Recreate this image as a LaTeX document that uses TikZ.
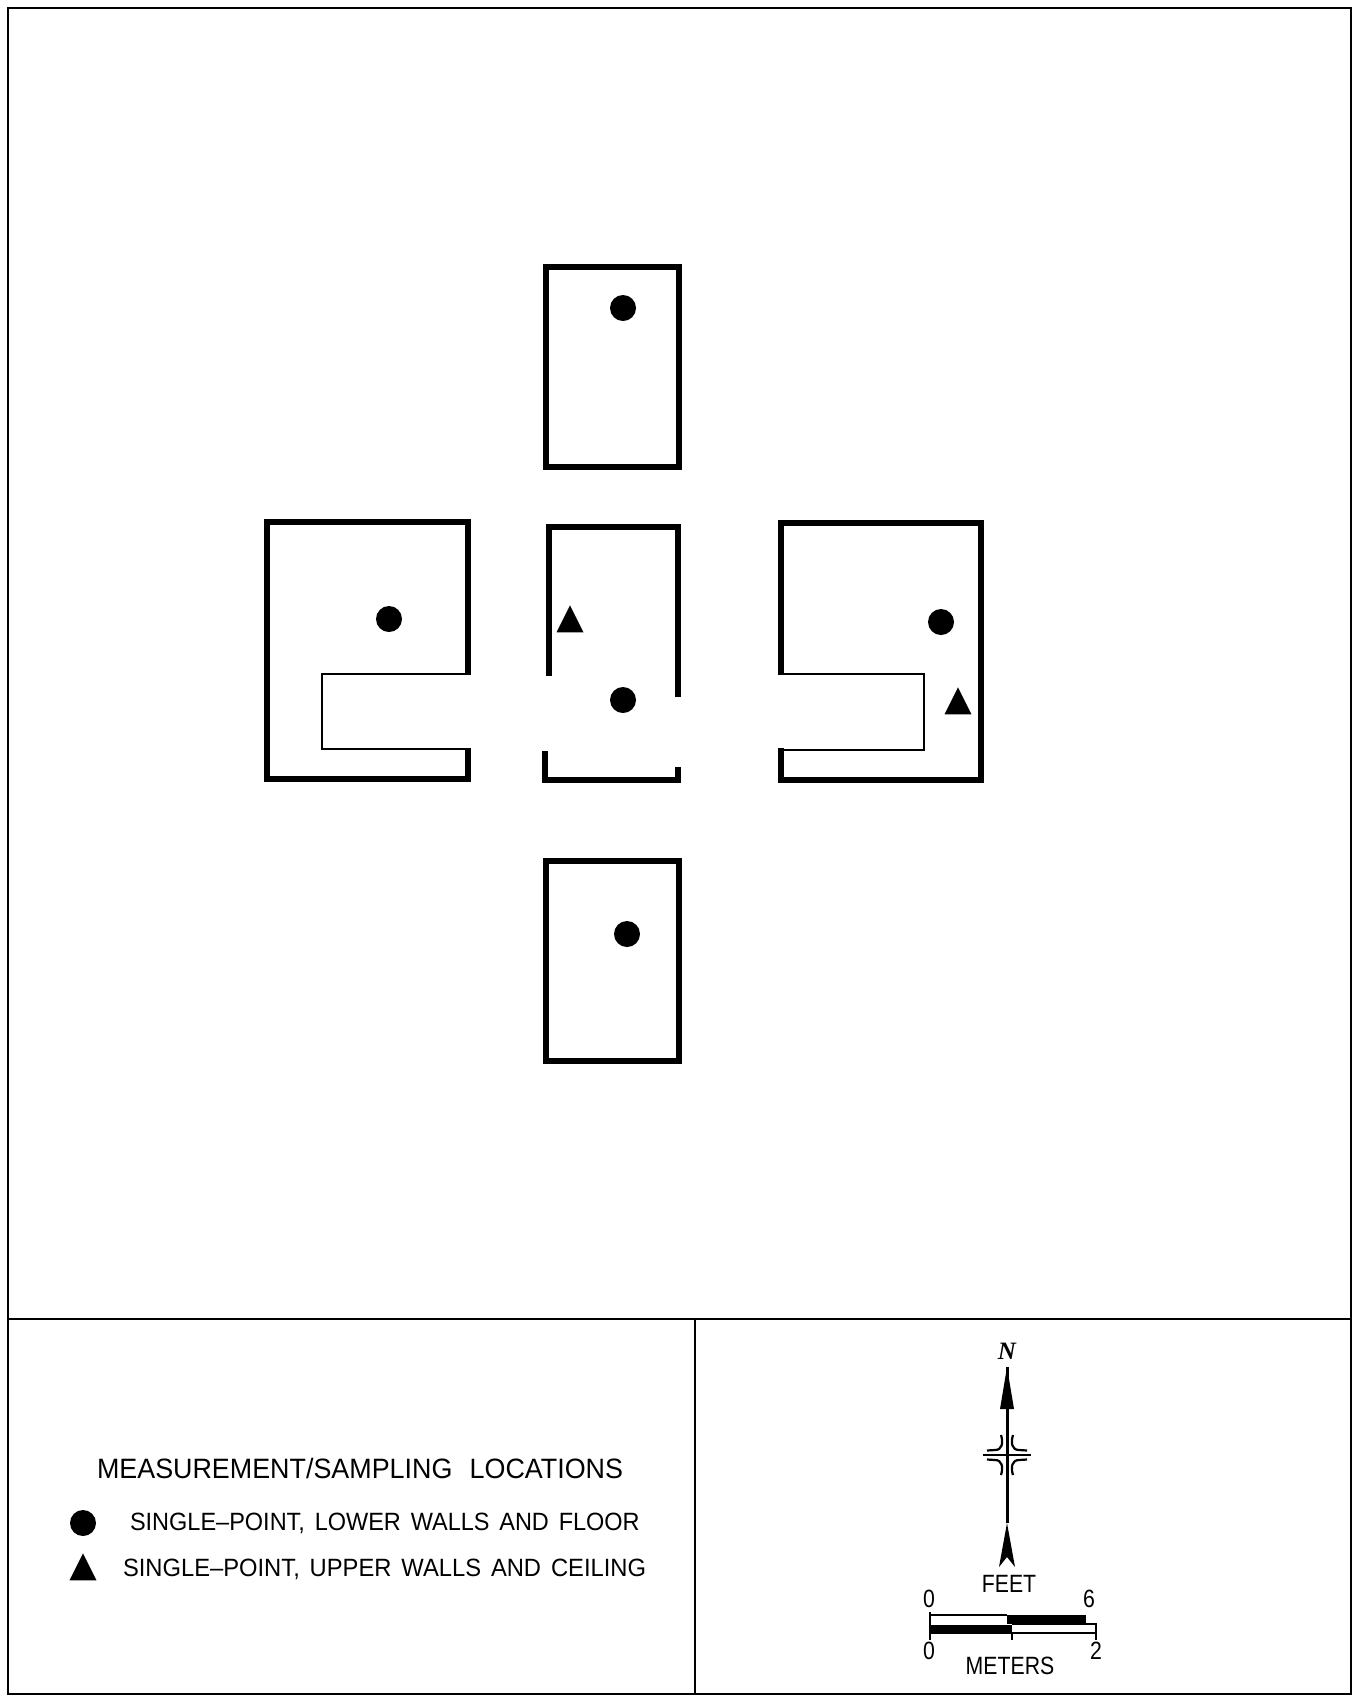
\documentclass[tikz,border=0pt]{standalone}
\usepackage{fontspec}
\usetikzlibrary{shapes.geometric}
\newfontfamily\titlefont[WordSpace=1.5, FakeStretch=0.96]{Liberation Sans}
\newfontfamily\cadfont[WordSpace=1.5, FakeStretch=0.94]{Liberation Sans}
\newfontfamily\widecadfont[WordSpace=1.5, FakeStretch=0.95]{Liberation Sans}
\newfontfamily\scalefont[FakeStretch=0.85]{Liberation Sans}
\newfontfamily\northfont{Liberation Serif}
\tikzset{
    every node/.style={inner sep=0, outer sep=0},
    wall/.style={line width=6pt, line cap=butt, line join=miter},
    thin wall/.style={line width=2.2pt, line join=miter},
    border/.style={line width=2.4pt},
    lower point/.style={circle, fill=black, minimum size=26pt},
    upper point/.style={isosceles triangle, isosceles triangle stretches,
        shape border rotate=90, fill=black, minimum width=27pt, minimum height=27pt},
    title text/.style={font=\titlefont\fontsize{28}{28}\selectfont},
    caption/.style={font=\cadfont\fontsize{25}{25}\selectfont},
    wide caption/.style={font=\widecadfont\fontsize{25}{25}\selectfont},
    scale text/.style={font=\scalefont\fontsize{25}{25}\selectfont}
}

\begin{document}
\begin{tikzpicture}[x=1pt, y=-1pt]
  \useasboundingbox (0,0) rectangle (1354,1695);

  % sheet
  \draw [border] (8,8) -- (1351,8) -- (1351,1694) -- (8,1694) -- cycle;
  \draw [border] (8,1319) -- (1351,1319);
  \draw [border] (695,1319) -- (695,1694);

  % rooms
  \draw [wall] (546,267) rectangle (679,467);
  \draw [wall] (546,861) rectangle (679,1061);
  \draw [wall] (468,675) -- (468,522) -- (267,522) -- (267,779) -- (468,779) -- (468,748);
  \draw [thin wall] (468,674) -- (322,674) -- (322,749) -- (468,749);
  \draw [wall] (781,675) -- (781,523) -- (981,523) -- (981,780) -- (781,780) -- (781,748);
  \draw [thin wall] (781,674) -- (924,674) -- (924,750) -- (781,750);
  \draw [wall] (549,676) -- (549,527) -- (678,527) -- (678,697);
  \draw [wall] (545,751) -- (545,780) -- (678,780) -- (678,767);

  % points
  \node (top dot) [lower point] at (623,308) {};
  \node (west dot) [lower point] at (389,619) {};
  \node (centre dot) [lower point] at (623,700) {};
  \node (east dot) [lower point] at (941,622) {};
  \node (south dot) [lower point] at (627,934) {};
  \node (centre tri) [upper point] at (570,624) {};
  \node (east tri) [upper point] at (958,706) {};

  % legend
  \node (legend title) [title text, anchor=west] at (97,1468) {MEASUREMENT/SAMPLING\hspace{6pt} LOCATIONS};
  \node (legend dot) [lower point] at (83,1523) {};
  \node (legend tri) [upper point] at (83,1572) {};
  \node (lower text) [caption, anchor=west] at (130,1523) {SINGLE\textendash POINT, LOWER WALLS AND FLOOR};
  \node (upper text) [wide caption, anchor=west] at (123,1569) {SINGLE\textendash POINT, UPPER WALLS AND CEILING};

  % north arrow
  \node (north) [font=\northfont\bfseries\itshape\fontsize{25}{25}\selectfont] at (1007,1351) {N};
  \coordinate (tip) at (1007,1367);
  \coordinate (tail) at (1007,1523);
  \coordinate (cross) at (1007,1455);
  \draw [line width=3pt] (tip) -- (tail);
  \fill (tip) -- (1014,1409) -- (1000,1409) -- cycle;
  \fill (tail) -- (1015,1567) -- (1007,1557) -- (999,1567) -- cycle;
  \draw [line width=2.4pt] ([xshift=-24pt]cross) -- ([xshift=24pt]cross);
  \foreach \sx/\sy in {-1/-1, 1/-1, -1/1, 1/1} {
    \draw [line width=2.2pt] ([shift={(\sx*6,\sy*20)}]cross)
      .. controls ([shift={(\sx*3.5,\sy*12)}]cross) and ([shift={(\sx*5,\sy*5)}]cross) .. ([shift={(\sx*12,\sy*5)}]cross)
      -- ([shift={(\sx*20,\sy*4.5)}]cross);
  }

  % scale bar
  \node (feet) [scale text] at (1009,1584) {FEET};
  \node (feet zero) [scale text] at (929,1599) {0};
  \node (feet six) [scale text] at (1089,1599) {6};
  \node (meter zero) [scale text] at (929,1651) {0};
  \node (meter two) [scale text] at (1096,1651) {2};
  \node (meters) [scale text] at (1010,1666) {METERS};
  \fill (1007,1615) rectangle (1086,1624);
  \fill (930,1625) rectangle (1012,1634);
  \draw [line width=2pt] (930,1615) -- (1007,1615);
  \draw [line width=2pt] (1012,1624) -- (1096,1624) -- (1096,1640);
  \draw [line width=2pt] (1012,1633) -- (1096,1633);
  \draw [line width=2pt] (930,1612) -- (930,1640);
  \draw [line width=2pt] (1012,1633) -- (1012,1640);
\end{tikzpicture}
\end{document}
